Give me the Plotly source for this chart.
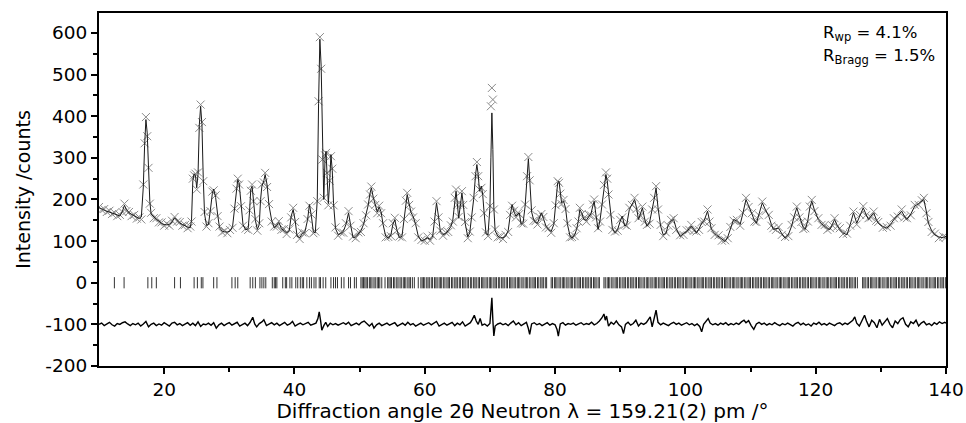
import plotly.graph_objects as go

# ---- observed / calculated profile (2theta in degrees, intensity in counts)
two_theta = [
    10.0, 10.4, 10.8, 11.2, 11.6, 12.0, 12.4, 12.8, 13.2, 13.6,
    13.9, 14.2, 14.6, 15.0, 15.4, 15.8, 16.2, 16.5, 16.8, 17.0,
    17.2, 17.4, 17.6, 17.8, 18.0, 18.4, 18.8, 19.2, 19.6, 20.0,
    20.4, 20.8, 21.2, 21.6, 22.0, 22.4, 22.8, 23.2, 23.6, 24.0,
    24.2, 24.4, 24.6, 24.8, 25.0, 25.2, 25.4, 25.6, 25.8, 26.0,
    26.2, 26.5, 26.8, 27.1, 27.4, 27.6, 27.9, 28.2, 28.5, 28.9,
    29.3, 29.7, 30.1, 30.5, 30.8, 31.1, 31.3, 31.5, 31.8, 32.1,
    32.5, 32.9, 33.1, 33.3, 33.5, 33.7, 34.0, 34.3, 34.6, 34.8,
    35.0, 35.3, 35.5, 35.8, 36.1, 36.5, 36.9, 37.3, 37.6, 38.0,
    38.4, 38.8, 39.2, 39.5, 39.8, 40.1, 40.4, 40.8, 41.2, 41.6,
    42.0, 42.3, 42.6, 42.9, 43.2, 43.5, 43.7, 43.9, 44.1, 44.3,
    44.5, 44.7, 44.85, 45.0, 45.2, 45.4, 45.6, 45.8, 46.0, 46.3,
    46.7, 47.1, 47.5, 47.9, 48.3, 48.6, 49.0, 49.4, 49.8, 50.2,
    50.6, 51.0, 51.3, 51.6, 51.8, 52.1, 52.4, 52.7, 53.0, 53.3,
    53.6, 54.0, 54.4, 54.8, 55.1, 55.4, 55.7, 56.1, 56.5, 56.8,
    57.1, 57.3, 57.6, 57.9, 58.2, 58.6, 59.0, 59.5, 60.0, 60.4,
    60.8, 61.2, 61.5, 61.8, 62.1, 62.4, 62.8, 63.2, 63.6, 64.0,
    64.3, 64.6, 64.8, 65.0, 65.2, 65.5, 65.7, 65.9, 66.2, 66.6,
    66.9, 67.2, 67.5, 67.8, 68.0, 68.2, 68.4, 68.7, 68.9, 69.1,
    69.4, 69.7, 70.0, 70.15, 70.3, 70.45, 70.6, 70.8, 71.2, 71.6,
    72.0, 72.4, 72.8, 73.1, 73.4, 73.7, 74.0, 74.3, 74.5, 74.8,
    75.1, 75.4, 75.7, 75.9, 76.1, 76.4, 76.7, 77.0, 77.3, 77.6,
    77.9, 78.2, 78.6, 79.0, 79.4, 79.8, 80.1, 80.4, 80.6, 80.8,
    81.0, 81.3, 81.6, 81.9, 82.3, 82.6, 83.0, 83.3, 83.6, 83.8,
    84.1, 84.4, 84.8, 85.2, 85.5, 85.8, 86.0, 86.3, 86.6, 86.9,
    87.2, 87.5, 87.8, 88.0, 88.2, 88.5, 88.8, 89.2, 89.6, 90.0,
    90.3, 90.7, 91.0, 91.4, 91.8, 92.2, 92.5, 92.8, 93.1, 93.4,
    93.8, 94.1, 94.5, 94.9, 95.2, 95.5, 95.8, 96.2, 96.6, 97.0,
    97.4, 97.8, 98.2, 98.6, 99.2, 99.7, 100.2, 100.6, 100.9, 101.3,
    101.7, 102.1, 102.5, 102.9, 103.4, 103.7, 104.0, 104.5, 105.1, 105.6,
    106.1, 106.5, 106.9, 107.4, 107.9, 108.4, 108.8, 109.3, 109.7, 110.2,
    110.6, 110.9, 111.3, 111.8, 112.3, 112.8, 113.2, 113.5, 113.9, 114.3,
    114.8, 115.3, 115.8, 116.3, 116.7, 117.1, 117.5, 117.8, 118.1, 118.4,
    118.8, 119.1, 119.4, 119.8, 120.4, 120.9, 121.4, 121.8, 122.2, 122.6,
    122.9, 123.3, 123.7, 124.2, 124.8, 125.3, 125.8, 126.3, 126.8, 127.3,
    127.7, 128.1, 128.5, 128.9, 129.3, 129.6, 130.3, 130.9, 131.5, 132.0,
    132.6, 133.2, 133.6, 134.0, 134.6, 135.2, 135.8, 136.3, 136.6, 137.0,
    137.3, 137.8, 138.3, 138.9, 139.6, 140.0,
]

intensity_calc = [
    180, 178, 174, 172, 170, 168, 165, 163, 160, 172,
    186, 176, 168, 164, 160, 157, 154, 158, 230, 330,
    392, 360, 270, 195, 165, 158, 152, 148, 142, 140,
    139, 140, 146, 156, 150, 143, 140, 136, 134, 132,
    150, 245, 262, 258, 228, 260, 380, 424, 380, 250,
    165, 138, 140, 175, 215, 225, 205, 165, 132, 124,
    122, 122, 124, 135, 175, 230, 248, 240, 180, 140,
    127, 130, 170, 225, 232, 200, 150, 128, 140, 200,
    232, 245, 260, 235, 185, 150, 132, 138, 145, 130,
    126, 120, 125, 160, 176, 150, 112, 108, 118, 122,
    150, 188, 160, 122, 120, 200, 430, 585, 520, 300,
    200, 300, 316, 260, 190, 240, 308, 270, 190, 130,
    116, 118, 123, 140, 168, 140, 108, 110, 118, 125,
    140, 165, 185, 215, 228, 205, 184, 170, 182, 170,
    140, 112, 107, 115, 140, 152, 128, 108, 112, 150,
    200, 212, 190, 168, 160, 140, 112, 100, 104, 108,
    104, 110, 150, 192, 160, 122, 116, 118, 125, 135,
    150, 200, 220, 190, 155, 190, 216, 190, 143, 110,
    120, 160, 200, 260, 284, 260, 220, 232, 210, 170,
    118, 115, 180, 300, 408, 320, 180, 125, 112, 108,
    108, 112, 125, 160, 188, 170, 160, 165, 168, 140,
    145, 184, 260, 298, 250, 170, 152, 145, 143, 155,
    168, 155, 136, 128, 123, 140, 190, 240, 244, 210,
    192, 196, 180, 140, 112, 107, 115, 128, 150, 176,
    168, 152, 150, 160, 165, 185, 196, 160, 128, 150,
    184, 230, 260, 245, 216, 160, 130, 120, 128, 148,
    160, 136, 140, 176, 190, 200, 180, 152, 165, 180,
    150, 136, 145, 172, 200, 228, 180, 136, 115, 118,
    140, 148, 152, 130, 111, 118, 123, 130, 136, 128,
    120, 130, 143, 150, 172, 150, 128, 118, 111, 104,
    99, 110, 131, 152, 148, 140, 165, 200, 185, 164,
    150, 143, 165, 192, 175, 160, 140, 128, 130, 131,
    118, 107, 115, 136, 160, 180, 160, 143, 132, 128,
    150, 180, 196, 175, 152, 142, 136, 130, 128, 140,
    152, 138, 128, 120, 115, 140, 168, 143, 160, 180,
    165, 152, 160, 168, 152, 143, 135, 131, 140, 152,
    162, 172, 160, 152, 165, 184, 190, 195, 200, 170,
    143, 125, 115, 110, 108, 112,
]

intensity_obs = [
    182, 175, 177, 170, 173, 165, 168, 160, 163, 170,
    190, 172, 170, 160, 163, 154, 157, 152, 236, 335,
    398, 352, 276, 190, 168, 155, 155, 145, 145, 137,
    142, 137, 149, 158, 147, 146, 137, 139, 131, 135,
    147, 250, 258, 262, 224, 265, 372, 428, 386, 244,
    170, 135, 143, 172, 219, 222, 210, 160, 135, 121,
    125, 119, 127, 132, 178, 226, 250, 236, 184, 137,
    130, 127, 174, 221, 236, 196, 153, 125, 143, 196,
    236, 241, 264, 230, 189, 147, 135, 135, 148, 127,
    129, 117, 128, 157, 180, 146, 115, 105, 121, 119,
    153, 185, 164, 119, 123, 196, 436, 590, 514, 296,
    204, 306, 312, 264, 186, 245, 304, 274, 186, 133,
    113, 121, 120, 143, 172, 137, 111, 107, 121, 122,
    143, 162, 188, 212, 231, 202, 187, 167, 185, 167,
    143, 109, 110, 112, 143, 156, 125, 111, 109, 153,
    197, 216, 187, 171, 157, 143, 109, 103, 101, 111,
    101, 113, 147, 196, 157, 125, 113, 121, 122, 138,
    147, 204, 224, 187, 158, 187, 220, 187, 146, 107,
    123, 157, 204, 256, 290, 256, 224, 228, 213, 167,
    121, 112, 184, 424, 468, 440, 176, 128, 109, 111,
    105, 115, 122, 163, 185, 173, 157, 168, 165, 143,
    142, 188, 256, 302, 246, 174, 149, 148, 140, 158,
    165, 158, 133, 131, 120, 143, 186, 244, 240, 214,
    189, 199, 177, 143, 109, 110, 112, 131, 147, 180,
    165, 155, 147, 163, 162, 188, 200, 157, 131, 147,
    188, 235, 265, 250, 212, 163, 127, 123, 125, 151,
    157, 139, 137, 180, 187, 204, 177, 155, 162, 183,
    147, 139, 142, 176, 204, 232, 176, 139, 112, 121,
    137, 151, 155, 127, 114, 115, 126, 127, 139, 125,
    123, 127, 146, 147, 176, 147, 131, 115, 114, 101,
    102, 107, 134, 149, 151, 137, 168, 204, 182, 167,
    147, 146, 162, 195, 172, 163, 137, 131, 127, 134,
    115, 110, 112, 139, 157, 183, 157, 146, 129, 131,
    147, 183, 199, 172, 155, 139, 139, 127, 131, 137,
    155, 135, 131, 117, 118, 137, 171, 140, 163, 184,
    162, 155, 157, 171, 149, 146, 132, 134, 137, 155,
    159, 176, 157, 155, 162, 187, 187, 198, 204, 167,
    146, 122, 118, 107, 111, 109,
]

# ---- difference curve (obs - calc, shown offset at -100)
diff_theta = [
    10.0, 10.4, 10.8, 11.2, 11.6, 12.0, 12.4, 12.8, 13.2, 13.6,
    14.0, 14.4, 14.8, 15.2, 15.6, 16.0, 16.4, 16.8, 17.2, 17.6,
    18.0, 18.4, 18.8, 19.2, 19.6, 20.0, 20.4, 20.8, 21.2, 21.6,
    22.0, 22.4, 22.8, 23.2, 23.6, 24.0, 24.4, 24.8, 25.2, 25.6,
    26.0, 26.4, 26.8, 27.2, 27.6, 28.0, 28.4, 28.8, 29.2, 29.6,
    30.0, 30.4, 30.8, 31.2, 31.6, 32.0, 32.4, 32.8, 33.2, 33.6,
    33.9, 34.2, 34.6, 35.0, 35.3, 35.7, 36.1, 36.5, 36.9, 37.3,
    37.7, 38.1, 38.5, 38.9, 39.3, 39.7, 40.1, 40.5, 40.9, 41.3,
    41.7, 42.1, 42.5, 42.9, 43.3, 43.6, 43.8, 44.0, 44.2, 44.5,
    44.8, 45.1, 45.5, 45.9, 46.3, 46.7, 47.1, 47.5, 47.9, 48.3,
    48.7, 49.1, 49.5, 49.9, 50.3, 50.7, 51.1, 51.5, 51.9, 52.2,
    52.6, 53.0, 53.4, 53.8, 54.2, 54.6, 55.0, 55.4, 55.8, 56.2,
    56.6, 57.0, 57.4, 57.8, 58.2, 58.6, 59.0, 59.4, 59.8, 60.2,
    60.6, 61.0, 61.4, 61.8, 62.2, 62.6, 63.0, 63.4, 63.8, 64.2,
    64.6, 65.0, 65.4, 65.8, 66.2, 66.6, 67.0, 67.3, 67.6, 67.9,
    68.2, 68.5, 68.8, 69.2, 69.6, 70.0, 70.2, 70.3, 70.45, 70.6,
    70.8, 71.2, 71.6, 72.0, 72.4, 72.8, 73.2, 73.6, 74.0, 74.4,
    74.8, 75.2, 75.6, 75.9, 76.1, 76.4, 76.8, 77.2, 77.6, 78.0,
    78.4, 78.8, 79.2, 79.6, 80.0, 80.3, 80.5, 80.8, 81.2, 81.6,
    82.0, 82.4, 82.8, 83.2, 83.6, 84.0, 84.4, 84.8, 85.2, 85.6,
    86.0, 86.4, 86.8, 87.2, 87.5, 87.7, 87.9, 88.2, 88.6, 89.0,
    89.4, 89.8, 90.2, 90.5, 90.8, 91.2, 91.6, 92.0, 92.4, 92.8,
    93.2, 93.6, 94.0, 94.3, 94.6, 94.9, 95.2, 95.5, 95.8, 96.2,
    96.6, 97.0, 97.4, 97.8, 98.2, 98.6, 99.0, 99.4, 99.8, 100.2,
    100.6, 101.0, 101.4, 101.8, 102.2, 102.5, 102.8, 103.2, 103.5, 103.8,
    104.2, 104.6, 105.0, 105.4, 105.8, 106.2, 106.6, 107.0, 107.4, 107.8,
    108.2, 108.6, 109.0, 109.3, 109.7, 110.1, 110.5, 110.9, 111.3, 111.7,
    112.1, 112.5, 112.9, 113.3, 113.7, 114.1, 114.5, 114.9, 115.3, 115.7,
    116.1, 116.5, 116.9, 117.3, 117.7, 118.1, 118.5, 118.9, 119.3, 119.7,
    120.1, 120.5, 120.9, 121.3, 121.7, 122.1, 122.5, 122.9, 123.3, 123.7,
    124.1, 124.5, 124.9, 125.3, 125.7, 126.0, 126.3, 126.7, 127.1, 127.5,
    127.8, 128.2, 128.6, 129.0, 129.4, 129.8, 130.2, 130.6, 131.0, 131.4,
    131.8, 132.2, 132.6, 133.0, 133.4, 133.8, 134.2, 134.6, 135.0, 135.4,
    135.8, 136.2, 136.6, 137.0, 137.4, 137.8, 138.2, 138.6, 139.0, 139.4,
    139.8, 140.0,
]

difference = [
    -100, -97, -103, -99, -95, -101, -104, -98, -100, -96,
    -94, -99, -103, -98, -101, -97, -104, -99, -93, -106,
    -100, -97, -103, -99, -102, -96, -100, -104, -97, -95,
    -101, -98, -103, -99, -96, -102, -97, -103, -94, -105,
    -99, -101, -97, -102, -96, -109, -101, -97, -103, -99,
    -96, -102, -98, -95, -104, -100, -97, -103, -95, -83,
    -99, -106, -98, -94, -89, -103, -99, -96, -101, -97,
    -103, -98, -95, -102, -99, -93, -104, -100, -97, -101,
    -98, -95, -102, -99, -97, -86, -70, -90, -114, -103,
    -95, -105, -97, -101, -98, -102, -99, -96, -100, -95,
    -103, -99, -97, -101, -95, -92, -99, -104, -98, -109,
    -101, -97, -103, -100, -97, -102, -99, -96, -104, -100,
    -97, -102, -95, -101, -98, -104, -100, -97, -102, -99,
    -96, -101, -98, -93, -104, -100, -97, -102, -98, -95,
    -103, -97, -101, -94, -104, -99, -96, -88, -78, -92,
    -100, -86, -102, -99, -104, -98, -60, -36, -90, -128,
    -104, -99, -97, -101, -98, -103, -97, -92, -101, -96,
    -103, -99, -95, -110, -124, -99, -96, -101, -98, -103,
    -99, -96, -102, -98, -101, -112, -128, -99, -96, -102,
    -98, -100, -97, -102, -99, -96, -101, -98, -100, -95,
    -101, -98, -92, -84, -75, -90, -80, -104, -95, -100,
    -92, -101, -106, -122, -100, -95, -102, -98, -90, -104,
    -97, -100, -96, -88, -82, -106, -84, -66, -95, -101,
    -97, -100, -103, -98, -95, -100, -97, -102, -99, -96,
    -101, -98, -103, -99, -105, -118, -100, -92, -86, -97,
    -101, -98, -102, -97, -100, -96, -102, -98, -101, -97,
    -100, -94, -90, -96, -91, -103, -112, -99, -95, -100,
    -97, -102, -98, -101, -96, -100, -103, -98, -101, -97,
    -100, -104, -98, -95, -101, -97, -102, -99, -104, -97,
    -100, -95, -101, -98, -102, -97, -100, -103, -98, -96,
    -101, -97, -100, -94, -90, -82, -97, -104, -92, -78,
    -92, -106, -90, -96, -108, -88, -102, -94, -86, -100,
    -108, -92, -98, -88, -84, -100, -106, -94, -98, -90,
    -104, -97, -93, -101, -98, -103, -96, -100, -94, -98,
    -95, -97,
]

# ---- Bragg reflection positions
bragg_positions = [
    12.36, 13.85, 17.5, 18.1, 18.8, 21.6, 22.5, 24.6, 25.1, 25.7,
    25.95, 27.6, 28.1, 30.4, 30.9, 31.3, 33.2, 33.6, 34.0, 34.7,
    35.0, 35.3, 35.6, 36.6, 36.9, 37.1, 37.3, 38.2, 38.6, 38.8,
    39.3, 39.6, 40.2, 40.5, 40.9, 41.2, 41.4, 41.9, 42.3, 42.6,
    43.0, 43.3, 43.8, 44.0, 44.4, 44.8, 45.6, 46.0, 46.3, 46.6,
    47.2, 47.6, 48.3, 48.6, 49.2, 49.5, 50.2, 50.4, 50.6, 50.8,
    51.0, 51.2, 51.5, 51.7, 51.9, 52.2, 52.4, 52.7, 52.9, 53.1,
    53.4, 53.9, 54.3, 54.5, 54.7, 54.9, 55.2, 55.4, 55.7, 55.9,
    56.2, 56.4, 56.7, 56.9, 57.1, 57.4, 57.6, 57.8, 58.1, 58.4,
    59.0, 59.4, 59.6, 59.8, 60.0, 60.3, 60.5, 60.7, 61.0, 61.2,
    61.5, 61.7, 61.9, 62.2, 62.4, 62.6, 62.9, 63.1, 63.4, 63.6,
    63.8, 64.1, 64.3, 64.6, 64.8, 65.0, 65.3, 65.5, 65.8, 66.0,
    66.2, 66.5, 66.7, 67.0, 67.2, 67.5, 67.7, 67.9, 68.2, 68.4,
    68.7, 68.9, 69.1, 69.4, 69.6, 69.9, 70.1, 70.3, 70.6, 70.8,
    71.0, 71.3, 71.5, 71.8, 72.0, 72.2, 72.5, 72.7, 73.0, 73.2,
    73.4, 73.7, 73.9, 74.2, 74.4, 74.6, 74.9, 75.1, 75.4, 75.6,
    75.8, 76.1, 76.3, 76.6, 76.8, 77.0, 77.3, 77.5, 77.8, 78.0,
    78.2, 78.5, 78.7, 79.4, 79.6, 79.9, 80.1, 80.3, 80.6, 80.8,
    81.1, 81.3, 81.5, 81.8, 82.0, 82.3, 82.5, 82.7, 83.0, 83.2,
    83.5, 83.7, 83.9, 84.2, 84.4, 84.7, 84.9, 85.1, 85.4, 85.6,
    85.9, 86.1, 86.3, 86.6, 86.8, 87.5, 87.7, 88.0, 88.2, 88.4,
    88.7, 88.9, 89.2, 89.4, 89.6, 89.9, 90.1, 90.4, 90.6, 90.8,
    91.1, 91.3, 91.6, 91.8, 92.0, 92.3, 92.5, 92.8, 93.0, 93.2,
    93.5, 93.7, 94.0, 94.2, 94.4, 94.7, 94.9, 95.2, 95.4, 95.6,
    95.9, 96.1, 96.4, 96.6, 96.8, 97.1, 97.3, 97.6, 97.8, 98.0,
    98.3, 98.5, 98.8, 99.0, 99.2, 99.5, 99.7, 100.0, 100.2, 100.4,
    100.7, 100.9, 101.2, 101.4, 101.6, 101.9, 102.1, 102.4, 102.6, 102.8,
    103.1, 103.3, 103.6, 103.8, 104.0, 104.3, 104.5, 104.8, 105.0, 105.2,
    105.5, 105.7, 106.0, 106.2, 106.4, 106.7, 106.9, 107.2, 107.4, 107.6,
    107.9, 108.1, 108.4, 108.6, 108.8, 109.1, 109.3, 109.6, 109.8, 110.0,
    110.3, 110.5, 110.8, 111.0, 111.2, 111.5, 111.7, 112.0, 112.2, 112.4,
    112.7, 112.9, 113.2, 113.4, 113.6, 113.9, 114.1, 114.4, 114.6, 114.8,
    115.1, 115.3, 115.6, 115.8, 116.0, 116.3, 116.5, 116.8, 117.0, 117.2,
    117.5, 117.7, 118.0, 118.2, 118.4, 118.7, 118.9, 119.2, 119.4, 119.6,
    119.9, 120.1, 120.4, 120.6, 120.8, 121.1, 121.3, 121.6, 121.8, 122.0,
    122.3, 122.5, 122.8, 123.0, 123.2, 123.5, 123.7, 124.0, 124.2, 124.4,
    124.7, 124.9, 125.2, 125.4, 125.6, 125.9, 126.1, 126.4, 127.2, 127.4,
    127.6, 127.9, 128.1, 128.4, 128.6, 128.8, 129.1, 129.3, 129.6, 129.8,
    130.0, 130.3, 130.5, 130.8, 131.0, 131.2, 131.5, 131.7, 132.0, 132.2,
    132.4, 132.7, 132.9, 133.2, 133.4, 133.6, 133.9, 134.1, 134.4, 134.6,
    134.8, 135.1, 135.3, 135.6, 135.8, 136.0, 136.3, 136.5, 136.8, 137.0,
    137.2, 137.5, 137.7, 138.0, 138.2, 138.4, 138.7, 138.9, 139.2, 139.4,
    139.6, 139.9,
]
bragg_level = [0] * len(bragg_positions)

x_tick_vals = [20, 40, 60, 80, 100, 120, 140]
x_tick_text = ["20", "40", "60", "80", "100", "120", "140"]
y_tick_vals = [-200, -100, 0, 100, 200, 300, 400, 500, 600]
y_tick_text = ["-200", "-100", "0", "100", "200", "300", "400", "500", "600"]

assert len(two_theta) == len(intensity_calc) == len(intensity_obs)
assert len(diff_theta) == len(difference)

FONT = "DejaVu Sans, Liberation Sans, Arial, sans-serif"
TICK_SIZE = 18.5

fig = go.Figure()

fig.add_trace(go.Scatter(
    x=two_theta, y=intensity_obs, mode="markers", name="obs",
    marker=dict(symbol="x-thin", size=8, color="#8a8a8a",
                line=dict(width=1, color="#8a8a8a")),
))
fig.add_trace(go.Scatter(
    x=two_theta, y=intensity_calc, mode="lines", name="calc",
    line=dict(color="#1a1a1a", width=1),
))
fig.add_trace(go.Scatter(
    x=bragg_positions, y=bragg_level, mode="markers", name="Bragg",
    marker=dict(symbol="line-ns", size=8, color="black",
                line=dict(width=1, color="#333333")),
))
fig.add_trace(go.Scatter(
    x=diff_theta, y=difference, mode="lines", name="diff",
    line=dict(color="black", width=1.4),
))

axis_common = dict(
    showline=True, linecolor="black", linewidth=2, mirror=True,
    ticks="outside", tickcolor="black", tickwidth=1.5, ticklen=6,
    showgrid=False, zeroline=False, automargin=False,
    tickfont=dict(family=FONT, size=TICK_SIZE, color="black"),
)

fig.update_xaxes(
    range=[10, 140], tickvals=x_tick_vals, ticktext=x_tick_text,
    minor=dict(ticks="outside", tickvals=[30, 50, 70, 90, 110, 130],
               ticklen=4, tickcolor="black", tickwidth=1.5),
    title=dict(text="Diffraction angle 2θ Neutron λ = 159.21(2) pm /°",
               font=dict(family=FONT, size=20, color="black"), standoff=6),
    **axis_common,
)
fig.update_yaxes(
    range=[-200, 648], tickvals=y_tick_vals, ticktext=y_tick_text,
    minor=dict(ticks="outside",
               tickvals=[-150, -50, 50, 150, 250, 350, 450, 550],
               ticklen=4, tickcolor="black", tickwidth=1.5),
    title=dict(text="Intensity /counts",
               font=dict(family=FONT, size=19, color="black"), standoff=10),
    **axis_common,
)

fig.add_annotation(
    xref="paper", yref="paper", x=0.853, y=0.943, xanchor="left",
    yanchor="middle", showarrow=False, text="R<sub>wp</sub> = 4.1%",
    font=dict(family=FONT, size=16.5, color="black"),
)
fig.add_annotation(
    xref="paper", yref="paper", x=0.853, y=0.878, xanchor="left",
    yanchor="middle", showarrow=False, text="R<sub>Bragg</sub> = 1.5%",
    font=dict(family=FONT, size=16.5, color="black"),
)

fig.update_layout(
    width=966, height=423,
    margin=dict(l=99, r=20, t=13, b=57, autoexpand=False),
    plot_bgcolor="white", paper_bgcolor="white",
    showlegend=False,
)

# remove the default 8 px page margin so the figure fills the window exactly
fig.write_html(
    "out.html",
    config={"displayModeBar": False},
    post_script="document.body.style.margin='0px';"
                "document.body.style.overflow='hidden';",
)
